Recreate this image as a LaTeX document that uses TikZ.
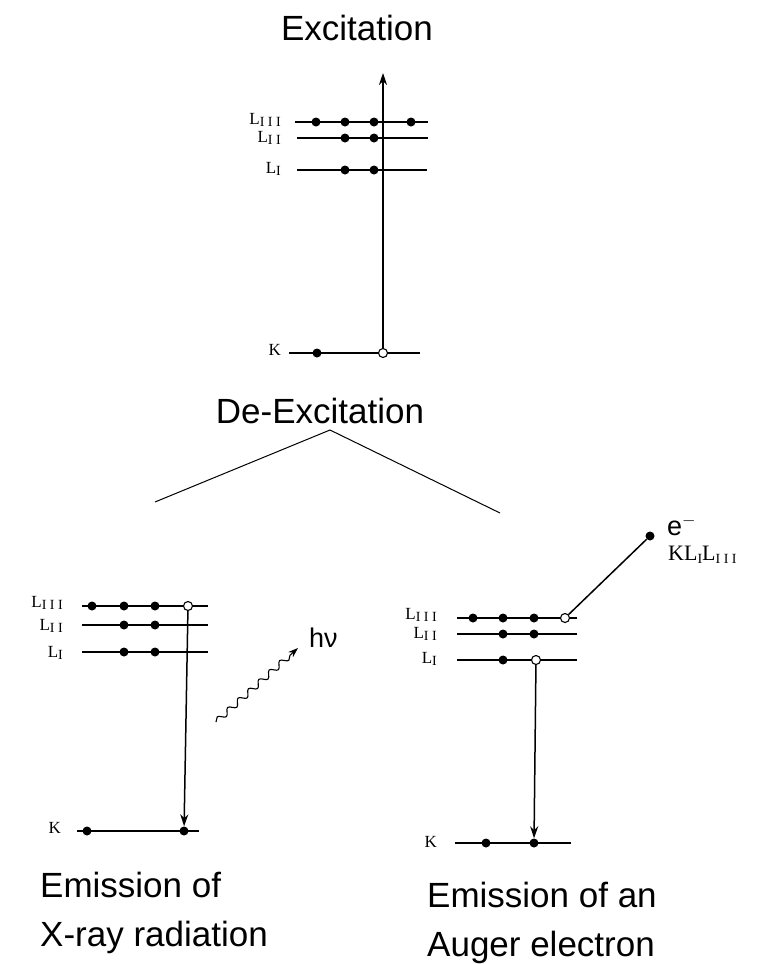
\documentclass[tikz,border=0pt]{standalone}
\usepackage{fontspec}
\setmainfont{Liberation Sans}
\newfontfamily\lblfont{Liberation Serif}
\newcommand{\lsub}[1]{\raisebox{-0.3ex}{\fontsize{14}{14}\selectfont\addfontfeatures{LetterSpace=25}#1}}
\usetikzlibrary{positioning, arrows.meta, decorations.pathmorphing}

\begin{document}
\begin{tikzpicture}[x=1pt, y=-1pt,
    level/.style={line width=1.4pt},
    elec/.style={circle, fill=black, inner sep=0pt, minimum size=9pt},
    hole/.style={circle, draw=black, fill=white, line width=1.1pt, inner sep=0pt, minimum size=9pt},
    lvlabel/.style={anchor=east, font=\lblfont\fontsize{17}{17}\selectfont, inner sep=0pt},
    title/.style={font=\fontsize{35}{49}\selectfont, inner sep=0pt, align=left},
    trans/.style={line width=1.5pt, -{Stealth[length=12pt, width=8pt]}},
    photon/.style={line width=1.1pt, decorate, decoration={snake, amplitude=3pt, segment length=14pt, post length=9pt}, -{Stealth[length=10pt, width=7pt]}}]

\useasboundingbox (0,0) rectangle (763,964);

% EXCITATION (arriba)
\node[title, anchor=base] (exc) at (357,40) {Excitation};
\draw[level] (295,122) -- (428,122);
\draw[level] (297,138) -- (428,138);
\draw[level] (297,170) -- (427,170);
\draw[level] (289,353) -- (420,353);
\node[lvlabel] (aL3) at (281,120) {L\lsub{III}};
\node[lvlabel] (aL2) at (281,138) {L\lsub{II}};
\node[lvlabel] (aL1) at (281,169) {L\lsub{I}};
\node[lvlabel] (aK)  at (281,350) {K};
\node[elec] (a31) at (316,122) {};
\node[elec] (a32) at (345,122) {};
\node[elec] (a33) at (374,122) {};
\node[elec] (a34) at (411,122) {};
\node[elec] (a22) at (345,138) {};
\node[elec] (a23) at (374,138) {};
\node[elec] (a12) at (345,170) {};
\node[elec] (a13) at (374,170) {};
\node[elec] (aK1) at (317,353) {};
\node[hole] (aKh) at (383,353) {};
\coordinate (aTop) at (383,73);
\draw[trans] (aKh) -- (aTop);

% DE-EXCITATION (ramas)
\node[title, anchor=base] (dex) at (320,423) {De-Excitation};
\coordinate (apex) at (330,430);
\coordinate (brL) at (155,502);
\coordinate (brR) at (500,513);
\draw[line width=1pt] (brL) -- (apex) -- (brR);

% Rama izquierda: rayos X
\draw[level] (82,606) -- (208,606);
\draw[level] (82,625) -- (208,625);
\draw[level] (82,652) -- (208,652);
\draw[level] (77,831) -- (199,831);
\node[lvlabel] (bL3) at (63,603) {L\lsub{III}};
\node[lvlabel] (bL2) at (63,626) {L\lsub{II}};
\node[lvlabel] (bL1) at (63,653) {L\lsub{I}};
\node[lvlabel] (bK)  at (61,828) {K};
\node[elec] (b31) at (92,606) {};
\node[elec] (b32) at (124,606) {};
\node[elec] (b33) at (155,606) {};
\node[hole] (b3h) at (188,606) {};
\node[elec] (b22) at (124,625) {};
\node[elec] (b23) at (155,625) {};
\node[elec] (b12) at (124,652) {};
\node[elec] (b13) at (155,652) {};
\node[elec] (bK1) at (87,831) {};
\node[elec] (bKe) at (184,831) {};
\draw[trans] (b3h) -- (bKe);
\coordinate (ph0) at (216,722);
\coordinate (ph1) at (298,648);
\draw[photon] (ph0) -- (ph1);
\node[anchor=west, font=\fontsize{27}{27}\selectfont, inner sep=0pt] (hnu) at (309,638) {hν};
\node[title, anchor=base west] (xray) at (40,946) {Emission of\\X-ray radiation};

% Rama derecha: electron Auger
\draw[level] (457,618) -- (577,618);
\draw[level] (457,634) -- (577,634);
\draw[level] (457,660) -- (577,660);
\draw[level] (455,843) -- (571,843);
\node[lvlabel] (cL3) at (437,615) {L\lsub{III}};
\node[lvlabel] (cL2) at (437,634) {L\lsub{II}};
\node[lvlabel] (cL1) at (437,659) {L\lsub{I}};
\node[lvlabel] (cK)  at (437,842) {K};
\node[elec] (c31) at (473,618) {};
\node[elec] (c32) at (503,618) {};
\node[elec] (c33) at (534,618) {};
\node[hole] (c3h) at (565,618) {};
\node[elec] (c22) at (503,634) {};
\node[elec] (c23) at (534,634) {};
\node[elec] (c12) at (503,660) {};
\node[hole] (c1h) at (536,660) {};
\node[elec] (cK1) at (486,843) {};
\node[elec] (cKe) at (534,843) {};
\draw[trans] (c1h) -- (cKe);
\node[elec] (auger) at (650,536) {};
\draw[line width=1.5pt] (c3h) -- (auger);
\node[anchor=base west, font=\fontsize{27}{27}\selectfont, inner sep=0pt] (eminus) at (667,535) {e$^{-}$};
\node[anchor=base west, font=\lblfont\fontsize{22}{22}\selectfont, inner sep=0pt] (klabel) at (668,560) {KL\lsub{I}L\lsub{III}};
\node[title, anchor=base west] (auglab) at (427,956) {Emission of an\\Auger electron};

\end{tikzpicture}
\end{document}
